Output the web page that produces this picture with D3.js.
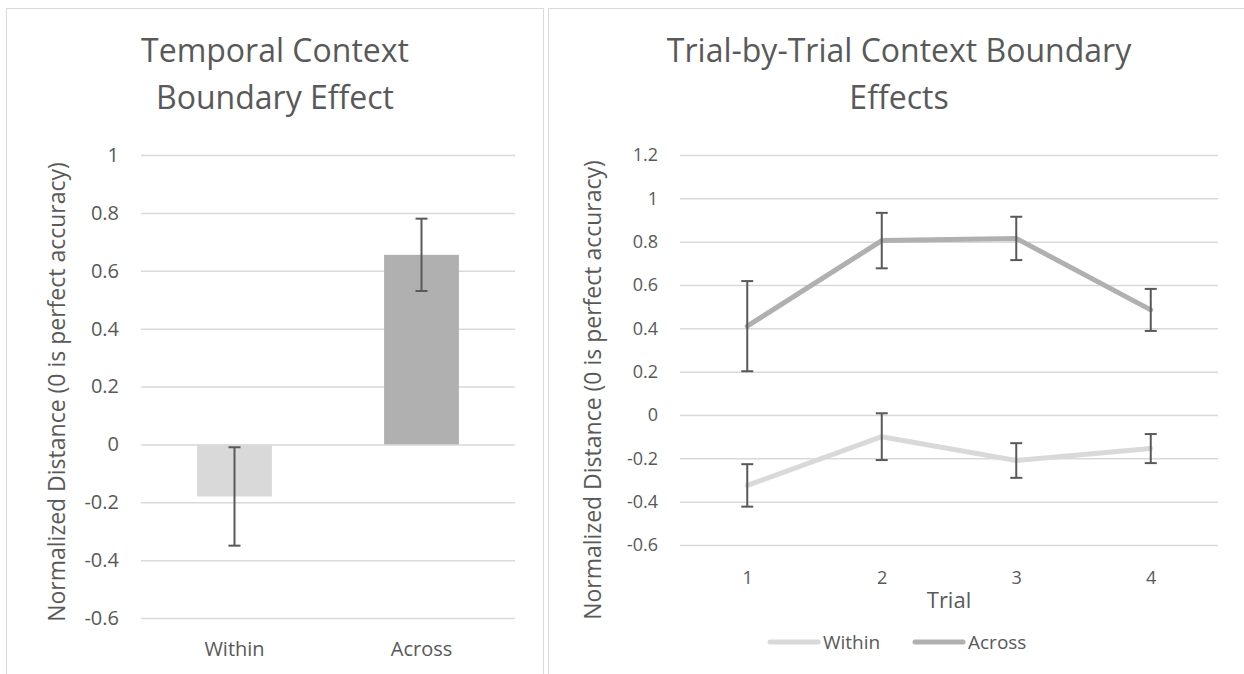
<!DOCTYPE html>
<html>
<head>
<meta charset="utf-8">
<script src="https://cdn.jsdelivr.net/npm/d3@7"></script>
<style>
  body { margin: 0; background: #fff; }
  text { font-family: "Open Sans", sans-serif; fill: #595959; }
</style>
</head>
<body>
<div id="chart-area"></div>
<script>
// bar chart data
const barCats = ["Within", "Across"]
const barVals = [-0.18, 0.655]
const barErr = [0.17, 0.125]
const barColors = ["#d9d9d9", "#b0b0b0"]
const leftTicks = [1, 0.8, 0.6, 0.4, 0.2, 0, -0.2, -0.4, -0.6]

// line chart data
const trials = ["1", "2", "3", "4"]
const withinVals = [-0.325, -0.1, -0.21, -0.155]
const withinErr = [0.098, 0.108, 0.08, 0.067]
const acrossVals = [0.41, 0.805, 0.815, 0.485]
const acrossErr = [0.208, 0.128, 0.1, 0.097]
const rightTicks = [1.2, 1, 0.8, 0.6, 0.4, 0.2, 0, -0.2, -0.4, -0.6]

const W = 1244, H = 674
const GRID = "#d9d9d9", ERR = "#595959"
const fmt = d => String(+d.toFixed(1))

const svg = d3.select("#chart-area").append("svg")
  .attr("width", W)
  .attr("height", H)

// panel borders
svg.append("rect").attr("x", 6.5).attr("y", 8.5).attr("width", 537).attr("height", 700)
  .attr("fill", "none").attr("stroke", GRID)
svg.append("rect").attr("x", 548.5).attr("y", 8.5).attr("width", 720).attr("height", 700)
  .attr("fill", "none").attr("stroke", GRID)

function yGrid(g, y, ticks, width, pad, size) {
  const axis = d3.axisLeft(y).tickValues(ticks).tickSize(-width).tickPadding(pad).tickFormat(fmt)
  g.call(axis)
  g.select(".domain").remove()
  g.selectAll(".tick line").attr("stroke", GRID).attr("stroke-width", 1.5)
  g.selectAll(".tick text").style("font-size", size).attr("fill", "#595959")
}

function errorBar(g, cx, hi, lo) {
  g.append("line").attr("x1", cx).attr("x2", cx).attr("y1", hi).attr("y2", lo)
  g.append("line").attr("x1", cx - 6).attr("x2", cx + 6).attr("y1", hi).attr("y2", hi)
  g.append("line").attr("x1", cx - 6).attr("x2", cx + 6).attr("y1", lo).attr("y2", lo)
}

// ---------- Left: bar chart ----------
const L = { x0: 141, x1: 515, y0: 155, y1: 618 }
const gl = svg.append("g")

const xL = d3.scaleBand().domain(barCats).range([L.x0, L.x1]).paddingInner(0.6).paddingOuter(0.3)
const yL = d3.scaleLinear().domain([-0.6, 1]).range([L.y1, L.y0])

gl.append("g").attr("transform", `translate(${L.x0},0)`)
  .call(g => yGrid(g, yL, leftTicks, L.x1 - L.x0, 22, "20px"))

gl.selectAll("rect.bar")
  .data(barCats)
  .enter().append("rect")
    .attr("class", "bar")
    .attr("x", d => xL(d))
    .attr("width", xL.bandwidth())
    .attr("y", (d, i) => yL(Math.max(0, barVals[i])))
    .attr("height", (d, i) => Math.abs(yL(barVals[i]) - yL(0)))
    .attr("fill", (d, i) => barColors[i])

const barErrG = gl.append("g").attr("stroke", ERR).attr("stroke-width", 2)
barCats.forEach((c, i) => {
  errorBar(barErrG, xL(c) + xL.bandwidth() / 2, yL(barVals[i] + barErr[i]), yL(barVals[i] - barErr[i]))
})

const xAxisL = gl.append("g").attr("transform", `translate(0,${L.y1})`)
  .call(d3.axisBottom(xL).tickSize(0).tickPadding(0))
xAxisL.select(".domain").remove()
xAxisL.selectAll("text").attr("dy", null).attr("y", 38).style("font-size", "20px").attr("fill", "#595959")

gl.append("text").attr("x", 275).attr("y", 62).attr("text-anchor", "middle")
  .style("font-size", "32px").text("Temporal Context")
gl.append("text").attr("x", 275).attr("y", 109).attr("text-anchor", "middle")
  .style("font-size", "32px").text("Boundary Effect")

gl.append("text")
  .attr("transform", `translate(65,392) rotate(-90)`)
  .attr("text-anchor", "middle")
  .style("font-size", "23px")
  .text("Normalized Distance (0 is perfect accuracy)")

// ---------- Right: line chart ----------
const R = { x0: 680, x1: 1218, y0: 155, y1: 545 }
const gr = svg.append("g")

const xR = d3.scalePoint().domain(trials).range([R.x0, R.x1]).padding(0.5)
const yR = d3.scaleLinear().domain([-0.6, 1.2]).range([R.y1, R.y0])

gr.append("g").attr("transform", `translate(${R.x0},0)`)
  .call(g => yGrid(g, yR, rightTicks, R.x1 - R.x0, 22, "18px"))

const series = [
  { name: "Within", vals: withinVals, err: withinErr, color: "#d9d9d9" },
  { name: "Across", vals: acrossVals, err: acrossErr, color: "#b0b0b0" }
]

const line = d3.line().x((d, i) => xR(trials[i])).y(d => yR(d))

series.forEach(s => {
  gr.append("path")
    .datum(s.vals)
    .attr("d", line)
    .attr("fill", "none")
    .attr("stroke", s.color)
    .attr("stroke-width", 5)
    .attr("stroke-linejoin", "round")
    .attr("stroke-linecap", "round")
})

series.forEach(s => {
  const eg = gr.append("g").attr("stroke", ERR).attr("stroke-width", 2)
  trials.forEach((t, i) => errorBar(eg, xR(t), yR(s.vals[i] + s.err[i]), yR(s.vals[i] - s.err[i])))
})

const xAxisR = gr.append("g").attr("transform", `translate(0,${R.y1})`)
  .call(d3.axisBottom(xR).tickSize(0).tickPadding(0))
xAxisR.select(".domain").remove()
xAxisR.selectAll("text").attr("dy", null).attr("y", 39).style("font-size", "18px").attr("fill", "#595959")

gr.append("text").attr("x", (R.x0 + R.x1) / 2).attr("y", 608).attr("text-anchor", "middle")
  .style("font-size", "22px").text("Trial")

gr.append("text").attr("x", 899).attr("y", 62).attr("text-anchor", "middle")
  .style("font-size", "32px").text("Trial-by-Trial Context Boundary")
gr.append("text").attr("x", 899).attr("y", 109).attr("text-anchor", "middle")
  .style("font-size", "32px").text("Effects")

gr.append("text")
  .attr("transform", `translate(601,390) rotate(-90)`)
  .attr("text-anchor", "middle")
  .style("font-size", "23px")
  .text("Normalized Distance (0 is perfect accuracy)")

// legend
const legend = gr.append("g")
const legX = [770, 915]
series.forEach((s, i) => {
  legend.append("line")
    .attr("x1", legX[i]).attr("x2", legX[i] + 48)
    .attr("y1", 642).attr("y2", 642)
    .attr("stroke", s.color).attr("stroke-width", 5).attr("stroke-linecap", "round")
  legend.append("text").attr("x", legX[i] + 53).attr("y", 649)
    .style("font-size", "19px").text(s.name)
})
</script>
</body>
</html>
